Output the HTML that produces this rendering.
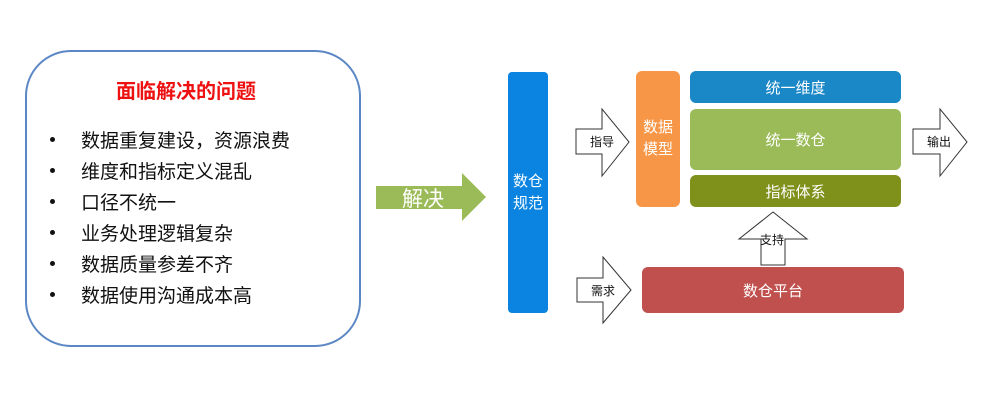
<!DOCTYPE html>
<html><head><meta charset="utf-8"><style>
body{margin:0;width:993px;height:402px;background:#fff;position:relative;overflow:hidden;font-family:"Liberation Sans","Noto Sans CJK SC",sans-serif}
.a{position:absolute}
.box{position:absolute;display:flex;align-items:center;justify-content:center;color:#fff;border-radius:6px;font-size:15px}
.li{position:absolute;left:81px;font-size:19px;color:#111}
.dot{position:absolute;left:50px;width:5px;height:5px;border-radius:50%;background:#111}
</style></head><body>
<div class="a" style="left:25px;top:50px;width:332px;height:293px;border:2px solid #5b87c5;border-radius:46px"></div>
<div class="a" style="left:0;width:372px;top:75px;text-align:center;color:#ee1111;font-weight:bold;font-size:20px">面临解决的问题</div>
<div class="dot" style="top:137px"></div><div class="li" style="top:126px">数据重复建设，资源浪费</div>
<div class="dot" style="top:168px"></div><div class="li" style="top:157px">维度和指标定义混乱</div>
<div class="dot" style="top:199px"></div><div class="li" style="top:188px">口径不统一</div>
<div class="dot" style="top:230px"></div><div class="li" style="top:219px">业务处理逻辑复杂</div>
<div class="dot" style="top:261px"></div><div class="li" style="top:250px">数据质量参差不齐</div>
<div class="dot" style="top:292px"></div><div class="li" style="top:281px">数据使用沟通成本高</div>
<svg class="a" style="left:0;top:0" width="993" height="402">
<polygon points="376,186 462,186 462,173 486,197 462,221 462,209 376,209" fill="#9bbb59"/>
<g fill="#fff" stroke="#333" stroke-width="1">
<polygon points="576,129 602,129 602,109 629,142 602,176 602,154 576,154"/>
<polygon points="913,129 940,129 940,109 967,142 940,176 940,154 913,154"/>
<polygon points="577,278 603,278 603,257 631,290 603,323 603,302 577,302"/>
<polygon points="761,265 761,239 739,239 773,212 807,239 785,239 785,265"/>
</g>
<g font-size="12" fill="#111" font-family="Liberation Sans,Noto Sans CJK SC,sans-serif">
<text x="590" y="146">指导</text><text x="927" y="146">输出</text>
<text x="591" y="295">需求</text><text x="760" y="244">支持</text>
</g>
<text x="402" y="206" font-size="21" fill="#fff" font-family="Liberation Sans,Noto Sans CJK SC,sans-serif">解决</text>
</svg>
<div class="box" style="left:508px;top:72px;width:40px;height:241px;background:#0a84e0;border-radius:4px;line-height:22px;text-align:center">数仓<br>规范</div>
<div class="box" style="left:636px;top:71px;width:44px;height:136px;background:#f79646;line-height:22px;text-align:center">数据<br>模型</div>
<div class="box" style="left:690px;top:71px;width:211px;height:32px;background:#1a87c6">统一维度</div>
<div class="box" style="left:690px;top:109px;width:211px;height:61px;background:#9bbb59">统一数仓</div>
<div class="box" style="left:690px;top:175px;width:211px;height:32px;background:#7f901b">指标体系</div>
<div class="box" style="left:642px;top:267px;width:262px;height:46px;background:#c0504d">数仓平台</div>
</body></html>
